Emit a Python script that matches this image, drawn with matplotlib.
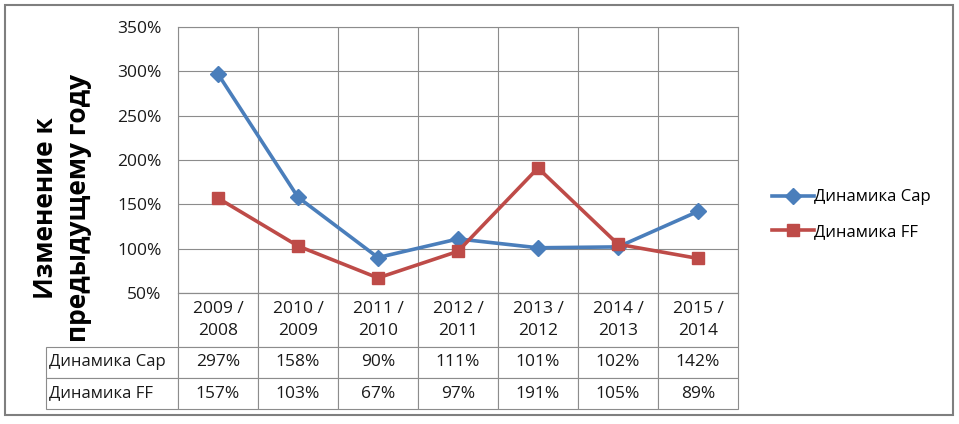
import matplotlib
matplotlib.use('Agg')
import matplotlib.pyplot as plt
from matplotlib.table import Table
from matplotlib.patches import Rectangle
from matplotlib.ticker import MultipleLocator, PercentFormatter

plt.rcParams['font.family'] = ['Open Sans', 'DejaVu Sans']

# data
periods = ['2009 /\n2008', '2010 /\n2009', '2011 /\n2010', '2012 /\n2011',
           '2013 /\n2012', '2014 /\n2013', '2015 /\n2014']
cap = [297, 158, 90, 111, 101, 102, 142]
ff = [157, 103, 67, 97, 191, 105, 89]
series_names = ['Динамика Cap', 'Динамика FF']
y_label = 'Изменение к\nпредыдущему году'

blue = '#4a7ebb'
red = '#be4b48'
grid_c = '#8c8c8c'
W, H = 959, 424
AX_W, AX_H = 560, 266  # plot area in px

fig = plt.figure(figsize=(W / 100, H / 100), dpi=100)
fig.patches.append(Rectangle((5 / W, 1 - 415 / H), 948 / W, 410 / H, transform=fig.transFigure,
                             fill=False, edgecolor='#7f7f7f', lw=1.5))

ax = fig.add_axes([178 / W, 1 - 293 / H, AX_W / W, AX_H / H])
x = list(range(len(periods)))
ax.plot(x, cap, color=blue, lw=2.6, marker='D', ms=8.5, label=series_names[0], zorder=3)
ax.plot(x, ff, color=red, lw=2.6, marker='s', ms=9, label=series_names[1], zorder=3)

ax.set_xlim(-0.5, len(periods) - 0.5)
ax.set_ylim(50, 350)
ax.yaxis.set_major_locator(MultipleLocator(50))
ax.yaxis.set_major_formatter(PercentFormatter(decimals=0))
ax.set_xticks([])
ax.set_xticks([i + 0.5 for i in range(-1, len(periods))], minor=True)
ax.tick_params(which='both', length=0)
ax.tick_params(axis='y', pad=12, labelsize=12.5, labelcolor='#1a1a1a')
ax.grid(axis='y', which='major', color=grid_c, lw=0.8)
ax.grid(axis='x', which='minor', color=grid_c, lw=0.8)
ax.set_axisbelow(True)
for s in ax.spines.values():
    s.set_color(grid_c)
    s.set_linewidth(0.8)

# data table under the plot (sizes in axes fractions)
col_w = 1 / len(periods)
lab_w = 132 / AX_W
head_h = 54 / AX_H
row_h = 31 / AX_H
tab = Table(ax, bbox=[0, -(head_h + 2 * row_h), 1, head_h + 2 * row_h])
for j, p in enumerate(periods):
    tab.add_cell(0, j, width=col_w, height=head_h, text=p, loc='center')
for i, (name, vals) in enumerate(zip(series_names, [cap, ff]), start=1):
    c = tab.add_cell(i, -1, width=lab_w, height=row_h, text=name, loc='left')
    c.PAD = 0.02
    for j, v in enumerate(vals):
        tab.add_cell(i, j, width=col_w, height=row_h, text=f'{v}%', loc='center')
tab.auto_set_font_size(False)
for (r, cidx), cell in tab.get_celld().items():
    cell.set_edgecolor(grid_c)
    cell.set_linewidth(0.8)
    cell.get_text().set_fontsize(12 if cidx < 0 else 12.5)
    cell.get_text().set_color('#1a1a1a')
    cell.get_text().set_linespacing(1.5)
ax.add_table(tab)

fig.text(62 / W, 1 - 208 / H, y_label, rotation=90, ha='center', va='center',
         multialignment='center', fontsize=19, fontweight='bold', linespacing=1.25)

fig.legend(loc='center left', bbox_to_anchor=(764 / W, 1 - 214.5 / H), frameon=False,
           fontsize=12, borderpad=0, handlelength=2.5, handletextpad=0.0, labelspacing=1.1)

fig.savefig('out.png', dpi=100)
